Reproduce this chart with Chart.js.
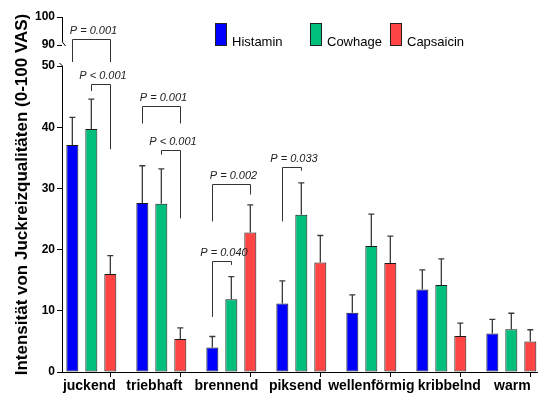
<!DOCTYPE html>
<html>
<head>
<meta charset="utf-8">
<script src="https://cdn.jsdelivr.net/npm/chart.js@4.4.1/dist/chart.umd.min.js"></script>
<style>
  html, body { margin: 0; padding: 0; background: #fff; }
  #wrap { width: 538px; height: 394px; }
</style>
</head>
<body>
<div id="wrap"><canvas id="chart"></canvas></div>
<script>
// Juckreizqualitäten nach Histamin / Cowhage / Capsaicin (VAS 0-100), Prism-style bars

const CATEGORIES = ['juckend', 'triebhaft', 'brennend', 'piksend', 'wellenförmig', 'kribbelnd', 'warm'];
const SERIES = ['Histamin', 'Cowhage', 'Capsaicin'];

const HISTAMIN = [37.1, 27.6, 4.0, 11.2, 9.7, 13.5, 6.3];
const COWHAGE = [39.7, 27.5, 11.9, 25.7, 20.6, 14.2, 7.0];
const CAPSAICIN = [16.0, 5.4, 22.8, 17.9, 17.8, 5.9, 5.0];

// SEM, only the upper whisker is shown
const HISTAMIN_SEM = [4.5, 6.1, 1.8, 3.7, 2.9, 3.2, 2.3];
const COWHAGE_SEM = [4.9, 5.7, 3.7, 5.2, 5.2, 4.3, 2.6];
const CAPSAICIN_SEM = [3.0, 1.8, 4.5, 4.4, 4.4, 2.1, 1.9];

const Y_TICKS = [0, 10, 20, 30, 40, 50, 90, 100];

// significance brackets (category, series from -> to, heights in VAS units)
const SIG_LABELS = ['P = 0.001', 'P < 0.001', 'P = 0.001', 'P < 0.001', 'P = 0.002', 'P = 0.040', 'P = 0.033'];
const SIG_CATEGORY = [0, 0, 1, 1, 2, 2, 3];
const SIG_FROM = [0, 1, 0, 1, 0, 0, 0];
const SIG_TO = [2, 2, 2, 2, 2, 1, 1];
const SIG_TOP = [92.1, 47.1, 43.4, 36.3, 30.7, 18.2, 33.5];
const SIG_LEFT_END = [57.6, 45.9, 40.6, 35.5, 24.6, 9.0, 24.6];
const SIG_RIGHT_END = [57.6, 36.4, 40.6, 25.1, 29.0, 17.5, 32.9];

const COLORS = ['#0000FF', '#00BF7A', '#FF4444'];
const FONT = "'Liberation Sans', Arial, sans-serif";

// axis break: 0-50 takes the lower part, 90-100 the top strip
const BREAK = { lowMax: 50, highMin: 90, max: 100, lowShare: 306 / 355, highStart: 327 / 355 };

function brokenFraction(v) {
  if (v <= BREAK.lowMax) return v / BREAK.lowMax * BREAK.lowShare;
  if (v < BREAK.highMin) {
    return BREAK.lowShare + (v - BREAK.lowMax) / (BREAK.highMin - BREAK.lowMax) * (BREAK.highStart - BREAK.lowShare);
  }
  return BREAK.highStart + (v - BREAK.highMin) / (BREAK.max - BREAK.highMin) * (1 - BREAK.highStart);
}

class BrokenLinearScale extends Chart.LinearScale {
  static id = 'brokenLinear';
  static defaults = {};

  getPixelForValue(value) {
    if (value === null || value === undefined || isNaN(value)) return NaN;
    return this.bottom - brokenFraction(value) * (this.bottom - this.top);
  }

  getValueForPixel(pixel) {
    const f = (this.bottom - pixel) / (this.bottom - this.top);
    if (f <= BREAK.lowShare) return f / BREAK.lowShare * BREAK.lowMax;
    if (f < BREAK.highStart) {
      return BREAK.lowMax + (f - BREAK.lowShare) / (BREAK.highStart - BREAK.lowShare) * (BREAK.highMin - BREAK.lowMax);
    }
    return BREAK.highMin + (f - BREAK.highStart) / (1 - BREAK.highStart) * (BREAK.max - BREAK.highMin);
  }
}
Chart.register(BrokenLinearScale);

const VALUES = [HISTAMIN, COWHAGE, CAPSAICIN];
const SEMS = [HISTAMIN_SEM, COWHAGE_SEM, CAPSAICIN_SEM];

// small per-label nudges so the long labels don't collide (as in the original)
const LABEL_NUDGE = [-2, -7, -5, -6, 0, 8, 1];
const LEGEND_X = [215, 310, 390];

const prismExtras = {
  id: 'prismExtras',
  afterDatasetsDraw(chart) {
    const ctx = chart.ctx;
    const y = chart.scales.y;
    ctx.save();
    ctx.strokeStyle = '#3a3a3a';
    ctx.lineWidth = 1.3;
    VALUES.forEach((vals, d) => {
      const meta = chart.getDatasetMeta(d);
      meta.data.forEach((bar, i) => {
        const yTop = y.getPixelForValue(vals[i] + SEMS[d][i]);
        ctx.beginPath();
        ctx.moveTo(bar.x, bar.y);
        ctx.lineTo(bar.x, yTop);
        ctx.moveTo(bar.x - 3, yTop);
        ctx.lineTo(bar.x + 3, yTop);
        ctx.stroke();
      });
    });
    ctx.restore();
  },
  afterDraw(chart) {
    const ctx = chart.ctx;
    const area = chart.chartArea;
    const x = chart.scales.x;
    const y = chart.scales.y;
    ctx.save();

    // broken y axis
    const ax = area.left + 0.5;
    const yHigh = y.getPixelForValue(BREAK.highMin);
    const yLow = y.getPixelForValue(BREAK.lowMax);
    ctx.strokeStyle = '#000';
    ctx.lineWidth = 1;
    ctx.beginPath();
    ctx.moveTo(ax, area.top);
    ctx.lineTo(ax, yHigh - 3);
    ctx.lineTo(ax + 3, yHigh + 1);
    ctx.moveTo(ax - 3, yLow - 3);
    ctx.lineTo(ax, yLow);
    ctx.lineTo(ax, area.bottom);
    ctx.stroke();

    // x tick marks under the capsaicin bars, category labels
    const red = chart.getDatasetMeta(2);
    ctx.beginPath();
    red.data.forEach(bar => {
      const px = Math.round(bar.x) + 0.5;
      ctx.moveTo(px, area.bottom);
      ctx.lineTo(px, area.bottom + 5);
    });
    ctx.stroke();

    ctx.fillStyle = '#000';
    ctx.font = 'bold 14px ' + FONT;
    ctx.textAlign = 'center';
    ctx.textBaseline = 'alphabetic';
    CATEGORIES.forEach((name, i) => {
      ctx.fillText(name, x.getPixelForValue(i) + LABEL_NUDGE[i], area.bottom + 18);
    });

    // significance brackets
    ctx.strokeStyle = '#333';
    ctx.lineWidth = 1;
    ctx.font = 'italic 11px ' + FONT;
    SIG_LABELS.forEach((label, k) => {
      const c = SIG_CATEGORY[k];
      const xl = Math.round(chart.getDatasetMeta(SIG_FROM[k]).data[c].x) + 0.5;
      const xr = Math.round(chart.getDatasetMeta(SIG_TO[k]).data[c].x) + 0.5;
      const yt = Math.round(y.getPixelForValue(SIG_TOP[k])) + 0.5;
      ctx.beginPath();
      ctx.moveTo(xl, y.getPixelForValue(SIG_LEFT_END[k]));
      ctx.lineTo(xl, yt);
      ctx.lineTo(xr, yt);
      ctx.lineTo(xr, y.getPixelForValue(SIG_RIGHT_END[k]));
      ctx.stroke();
      ctx.fillStyle = '#222';
      ctx.fillText(label, (xl + xr) / 2 + 2, yt - 6);
    });

    // legend
    ctx.font = '13px ' + FONT;
    ctx.textAlign = 'left';
    SERIES.forEach((name, d) => {
      const bx = LEGEND_X[d];
      ctx.fillStyle = COLORS[d];
      ctx.fillRect(bx, 23, 12, 23);
      ctx.strokeStyle = '#222';
      ctx.strokeRect(bx + 0.5, 23.5, 11, 22);
      ctx.fillStyle = '#000';
      ctx.fillText(name, bx + 17, 46);
    });

    ctx.restore();
  }
};

Chart.defaults.font.family = FONT;
Chart.defaults.color = '#000';

new Chart(document.getElementById('chart'), {
  type: 'bar',
  data: {
    datasets: SERIES.map((name, d) => ({
      label: name,
      data: VALUES[d].map((v, i) => ({ x: i, y: v })),
      backgroundColor: COLORS[d],
      borderColor: '#1a1a1a',
      borderWidth: 1,
      borderSkipped: false,
      categoryPercentage: 0.814,
      barPercentage: 0.632
    }))
  },
  options: {
    responsive: true,
    maintainAspectRatio: false,
    animation: false,
    layout: { padding: { top: 17, left: 0, right: 0, bottom: 0 } },
    plugins: {
      legend: { display: false },
      tooltip: { enabled: false }
    },
    scales: {
      x: {
        type: 'linear',
        position: 'bottom',
        offset: false,
        min: -0.419,
        max: 6.381,
        afterBuildTicks: scale => { scale.ticks = CATEGORIES.map((_, i) => ({ value: i })); },
        afterFit: scale => { scale.height = 22; },
        ticks: { display: false },
        grid: { display: false, drawTicks: false },
        border: { display: true, color: '#000', width: 1 }
      },
      y: {
        type: 'brokenLinear',
        min: 0,
        max: 100,
        afterBuildTicks: scale => { scale.ticks = Y_TICKS.map(v => ({ value: v })); },
        afterFit: scale => { scale.width = 62; },
        ticks: {
          color: '#000',
          padding: 2,
          font: { family: FONT, size: 12, weight: 'bold' }
        },
        grid: { display: true, drawOnChartArea: false, drawTicks: true, tickLength: 5, color: '#000', lineWidth: 1 },
        border: { display: false },
        title: {
          display: true,
          text: 'Intensität von Juckreizqualitäten (0-100 VAS)',
          color: '#000',
          font: { family: FONT, size: 17, weight: 'bold' },
          padding: { top: 12, bottom: 0 }
        }
      }
    }
  },
  plugins: [prismExtras]
});
</script>
</body>
</html>
